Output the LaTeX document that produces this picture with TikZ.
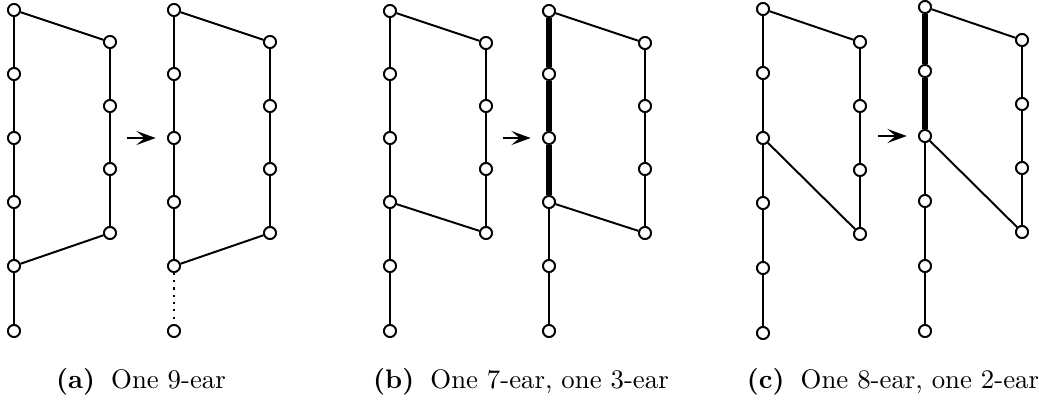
\documentclass[tikz,border=0pt]{standalone}
\usetikzlibrary{arrows.meta}
\begin{document}
\begin{tikzpicture}[x=0.0135cm,y=-0.0135cm,
  vtx/.style={circle,draw,fill=white,line width=0.7pt,inner sep=0pt,minimum size=4.6pt},
  edge/.style={line width=0.75pt},
  heavy/.style={line width=2pt},
  dots/.style={line width=0.8pt,dotted},
  goarrow/.style={line width=0.6pt,shorten >=4.4pt,-{Stealth[length=2.6mm,width=1.9mm,inset=1.1mm]}},
  captext/.style={font=\fontsize{10.3}{12}\selectfont,anchor=base}]
\useasboundingbox (0,0) rectangle (1039,402);
% ---------- (a) left
\foreach \i/\y in {1/10,2/74,3/138,4/202,5/266,6/331} \node[vtx] (aL\i) at (14,\y) {};
\foreach \i/\y in {1/42,2/106,3/169,4/233} \node[vtx] (aR\i) at (110,\y) {};
% (a) right
\foreach \i/\y in {1/10,2/74,3/138,4/202,5/266,6/331} \node[vtx] (bL\i) at (174,\y) {};
\foreach \i/\y in {1/42,2/106,3/169,4/233} \node[vtx] (bR\i) at (270,\y) {};
\draw[edge] (aL1)--(aL2)--(aL3)--(aL4)--(aL5)--(aL6);
\draw[edge] (aL1)--(aR1)--(aR2)--(aR3)--(aR4)--(aL5);
\draw[edge] (bL1)--(bL2)--(bL3)--(bL4)--(bL5);
\draw[dots] (bL5)--(bL6);
\draw[edge] (bL1)--(bR1)--(bR2)--(bR3)--(bR4)--(bL5);
\coordinate (a0) at (127,138);
\draw[goarrow] (a0) -- (bL3.west);
% ---------- (b)
\foreach \i/\y in {1/11,2/74,3/138,4/202,5/266,6/331} \node[vtx] (cL\i) at (390,\y) {};
\foreach \i/\y in {1/43,2/106,3/169,4/233} \node[vtx] (cR\i) at (486,\y) {};
\foreach \i/\y in {1/11,2/74,3/138,4/202,5/266,6/331} \node[vtx] (dL\i) at (549,\y) {};
\foreach \i/\y in {1/43,2/106,3/169,4/233} \node[vtx] (dR\i) at (645,\y) {};
\draw[edge] (cL1)--(cL2)--(cL3)--(cL4)--(cL5)--(cL6);
\draw[edge] (cL1)--(cR1)--(cR2)--(cR3)--(cR4)--(cL4);
\draw[heavy] (dL1)--(dL2)--(dL3)--(dL4);
\draw[edge] (dL4)--(dL5)--(dL6);
\draw[edge] (dL1)--(dR1)--(dR2)--(dR3)--(dR4)--(dL4);
\coordinate (b0) at (503,138);
\draw[goarrow] (b0) -- (dL3.west);
% ---------- (c)
\foreach \i/\y in {1/9,2/73,3/138,4/203,5/268,6/333} \node[vtx] (eL\i) at (763,\y) {};
\foreach \i/\y in {1/42,2/106,3/170,4/234} \node[vtx] (eR\i) at (860,\y) {};
\foreach \i/\y in {1/7,2/71,3/136,4/201,5/266,6/331} \node[vtx] (fL\i) at (925,\y) {};
\foreach \i/\y in {1/40,2/104,3/168,4/232} \node[vtx] (fR\i) at (1022,\y) {};
\draw[edge] (eL1)--(eL2)--(eL3)--(eL4)--(eL5)--(eL6);
\draw[edge] (eL1)--(eR1)--(eR2)--(eR3)--(eR4)--(eL3);
\draw[heavy] (fL1)--(fL2)--(fL3);
\draw[edge] (fL3)--(fL4)--(fL5)--(fL6);
\draw[edge] (fL1)--(fR1)--(fR2)--(fR3)--(fR4)--(fL3);
\coordinate (c0) at (878,136);
\draw[goarrow] (c0) -- (fL3.west);
% redraw vertices on top
\foreach \n in {aL,bL,cL,dL,eL,fL} \foreach \i in {1,...,6} \path (\n\i) node[vtx] {};
\foreach \n in {aR,bR,cR,dR,eR,fR} \foreach \i in {1,...,4} \path (\n\i) node[vtx] {};
% captions
\node[captext] (capa) at (141,388) {\textbf{(a)}\hspace{0.6em}One 9-ear};
\node[captext] (capb) at (521,388) {\textbf{(b)}\hspace{0.6em}One 7-ear, one 3-ear};
\node[captext] (capc) at (893,388) {\textbf{(c)}\hspace{0.6em}One 8-ear, one 2-ear};
\end{tikzpicture}
\end{document}
